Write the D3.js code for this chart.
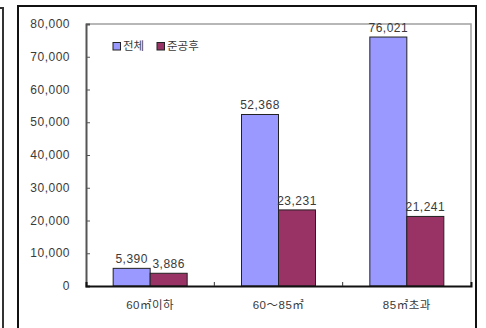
<!DOCTYPE html>
<html>
<head>
<meta charset="utf-8">
<script src="https://cdn.jsdelivr.net/npm/d3@7"></script>
<style>
  html, body { margin: 0; padding: 0; background: #fff; }
  svg { display: block; }
  text { font-family: "Liberation Sans", "Noto Sans CJK KR", sans-serif; fill: #3a3a3a; letter-spacing: 0.5px; }
</style>
</head>
<body>
<svg id="chart" width="486" height="328"></svg>
<script>
// Housing units by floor-area band: all vs. post-completion
const categories = ["60㎡이하", "60～85㎡", "85㎡초과"];
const seriesNames = ["전체", "준공후"];
const totalValues = [5390, 52368, 76021];
const completedValues = [3886, 23231, 21241];
const yTicks = [0, 10000, 20000, 30000, 40000, 50000, 60000, 70000, 80000];
const colors = ["#9999FF", "#993366"];

const svg = d3.select("#chart");

// neighbouring frame edge on the far left
svg.append("path")
  .attr("d", "M0,8H3V328")
  .attr("fill", "none").attr("stroke", "#333").attr("stroke-width", 2);

// chart frame
svg.append("rect")
  .attr("x", 18).attr("y", 6).attr("width", 458).attr("height", 330)
  .attr("fill", "#fff").attr("stroke", "#111").attr("stroke-width", 2);

const plot = { left: 86, right: 471, top: 24, bottom: 286 };

const x0 = d3.scaleBand().domain(categories).range([plot.left, plot.right]);
const x1 = d3.scaleBand().domain(seriesNames).range([0, 74]);
const y = d3.scaleLinear().domain([0, 80000]).range([plot.bottom, plot.top]);

// plot area border (top and right)
svg.append("path")
  .attr("d", `M${plot.left},${plot.top}H${plot.right}V${plot.bottom}`)
  .attr("fill", "none").attr("stroke", "#a0a0a0").attr("stroke-width", 1.5);

// bars
const series = [totalValues, completedValues];
const groups = svg.append("g").selectAll("g")
  .data(categories)
  .join("g")
  .attr("transform", d => `translate(${x0(d) + (x0.bandwidth() - 74) / 2},0)`);

groups.each(function(cat, i) {
  const g = d3.select(this);
  seriesNames.forEach((s, j) => {
    const v = series[j][i];
    g.append("rect")
      .attr("x", x1(s)).attr("y", y(v))
      .attr("width", x1.bandwidth()).attr("height", y(0) - y(v))
      .attr("fill", colors[j]).attr("stroke", "#222").attr("stroke-width", 1);
    g.append("text")
      .attr("x", x1(s) + x1.bandwidth() / 2).attr("y", y(v) - 5)
      .attr("text-anchor", "middle").attr("font-size", 12)
      .text(d3.format(",")(v));
  });
});

// y axis
const yAxis = d3.axisRight(y).tickValues(yTicks).tickSize(4).tickFormat("");
const ya = svg.append("g").attr("transform", `translate(${plot.left},0)`).call(yAxis);
ya.select(".domain").attr("stroke", "#555").attr("stroke-width", 2);
ya.selectAll(".tick line").attr("stroke", "#555");
svg.append("g").selectAll("text")
  .data(yTicks).join("text")
  .attr("x", 70).attr("y", d => y(d)).attr("dy", "0.35em")
  .attr("text-anchor", "end").attr("font-size", 12)
  .text(d => d3.format(",")(d));

// x axis
const xAxis = d3.axisTop(x0).tickSize(4).tickFormat("");
const xa = svg.append("g").attr("transform", `translate(0,${plot.bottom})`).call(xAxis);
xa.select(".domain").attr("stroke", "#111").attr("stroke-width", 2);
xa.selectAll(".tick").remove();
// category boundary ticks
svg.append("g").selectAll("line")
  .data(categories.slice(1)).join("line")
  .attr("x1", d => x0(d)).attr("x2", d => x0(d))
  .attr("y1", plot.bottom - 4).attr("y2", plot.bottom)
  .attr("stroke", "#333");
svg.append("g").selectAll("text")
  .data(categories).join("text")
  .attr("x", d => x0(d) + x0.bandwidth() / 2).attr("y", 305).attr("dy", "0.35em")
  .attr("text-anchor", "middle").attr("font-size", 11.5)
  .text(d => d);

// legend
const legend = svg.append("g").attr("transform", "translate(113,46)");
const lx = [0, 44];
seriesNames.forEach((s, j) => {
  legend.append("rect")
    .attr("x", lx[j]).attr("y", -3.5).attr("width", 7.5).attr("height", 7.5)
    .attr("fill", colors[j]).attr("stroke", "#222").attr("stroke-width", 1);
  legend.append("text")
    .attr("x", lx[j] + 10).attr("y", 0).attr("dy", "0.35em")
    .attr("font-size", 11.5).style("letter-spacing", "0px").text(s);
});
</script>
</body>
</html>
